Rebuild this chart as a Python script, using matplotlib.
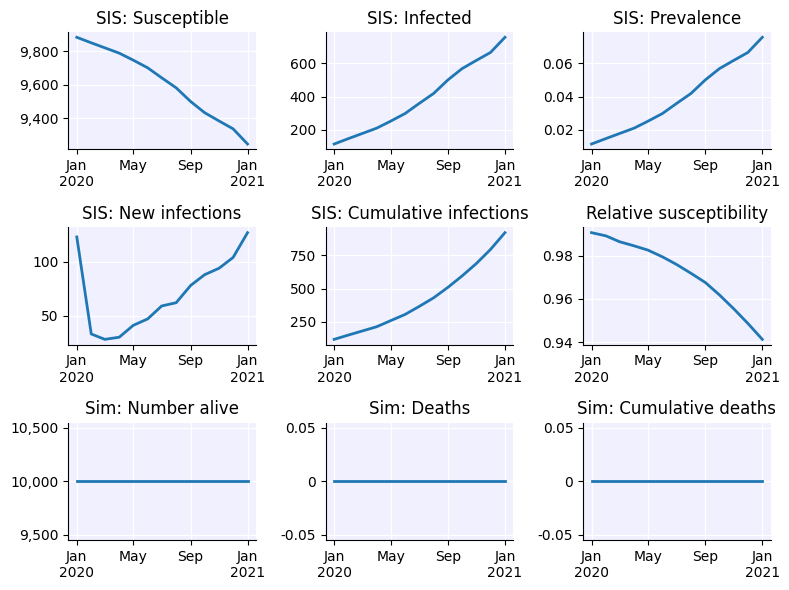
import datetime as dt
import matplotlib
matplotlib.use("Agg")
import matplotlib.pyplot as plt
import matplotlib.dates as mdates
import matplotlib.ticker as mticker

# monthly time points, Jan 2020 .. Jan 2021
dates = [dt.date(2020 + (m // 12), m % 12 + 1, 1) for m in range(13)]

susceptible = [9885, 9852, 9822, 9790, 9748, 9702, 9642, 9582, 9500, 9433, 9383, 9336, 9245]
infected = [115, 148, 178, 210, 252, 298, 358, 418, 500, 567, 617, 664, 755]
prevalence = [v / 10000 for v in infected]
new_infections = [123, 33, 28, 30, 41, 47, 59, 62, 78, 88, 94, 104, 127]
cum_infections = [117, 150, 180, 212, 258, 305, 365, 430, 510, 595, 690, 795, 922]
rel_sus = [0.9907, 0.9892, 0.9865, 0.9846, 0.9826, 0.9795, 0.9760, 0.9719, 0.9676,
           0.9619, 0.9554, 0.9487, 0.9413]
n_alive = [10000] * 13
deaths = [0] * 13
cum_deaths = [0] * 13

titles = ["SIS: Susceptible", "SIS: Infected", "SIS: Prevalence",
          "SIS: New infections", "SIS: Cumulative infections", "Relative susceptibility",
          "Sim: Number alive", "Sim: Deaths", "Sim: Cumulative deaths"]
series = [susceptible, infected, prevalence,
          new_infections, cum_infections, rel_sus,
          n_alive, deaths, cum_deaths]


def date_label(x, pos=None):
    d = mdates.num2date(x)
    if d.month == 1:
        return d.strftime("%b\n%Y")
    return d.strftime("%b")


fig, axes = plt.subplots(3, 3, figsize=(7.89, 5.90), dpi=100)
for ax, title, ys in zip(axes.flat, titles, series):
    ax.set_facecolor("#f0f0ff")
    ax.plot(dates, ys, color="#1f77b4", lw=2)
    ax.set_title(title)
    ax.grid(True, color="white", lw=1)
    ax.set_axisbelow(True)
    ax.spines["top"].set_visible(False)
    ax.spines["right"].set_visible(False)
    ax.xaxis.set_major_locator(mdates.MonthLocator(bymonth=[1, 5, 9]))
    ax.xaxis.set_major_formatter(mticker.FuncFormatter(date_label))
    ax.yaxis.set_major_formatter(mticker.FuncFormatter(lambda v, p: f"{v:,g}"))

fig.subplots_adjust(left=0.0865, right=0.977, top=0.9458, bottom=0.0847,
                    wspace=0.37, hspace=0.664)
fig.savefig("out.png", dpi=100)
